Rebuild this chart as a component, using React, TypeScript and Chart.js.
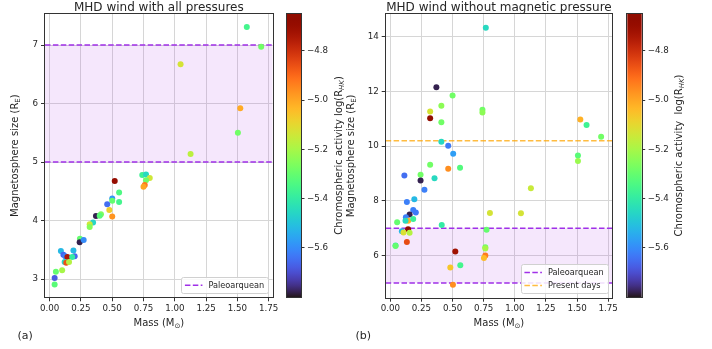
import React, { useEffect, useRef } from "react";
import { Chart, registerables } from "chart.js";
Chart.register(...registerables);

const FONT = "'DejaVu Sans', 'Liberation Sans', sans-serif";
const TXT = "#262626";
const GRID = "#d6d6d6";
const SPINE = "#333333";
const PURPLE = "#a030e8";
const ORANGE = "rgba(255,165,0,0.75)";
const BAND = "rgba(170,60,230,0.12)";

// ---------- data ----------
// Panel (a): MHD wind with all pressures
const massA = [0.52, 0.74, 0.77, 0.8, 0.77, 0.76, 0.75, 0.555, 0.555, 0.5, 0.5, 0.46, 0.477, 0.5, 0.37, 0.41, 0.4, 0.347, 0.32, 0.32, 0.242, 0.24, 0.272, 0.09, 0.19, 0.11, 0.125, 0.142, 0.2, 0.18, 0.12, 0.133, 0.155, 0.05, 0.1, 0.04, 0.04, 1.575, 1.69, 1.046, 1.523, 1.504, 1.126];
const sizeA = [4.675, 4.78, 4.79, 4.73, 4.69, 4.61, 4.58, 4.48, 4.32, 4.38, 4.34, 4.28, 4.18, 4.07, 4.08, 4.11, 4.085, 3.97, 3.94, 3.89, 3.69, 3.63, 3.67, 3.48, 3.49, 3.415, 3.39, 3.38, 3.39, 3.38, 3.295, 3.28, 3.295, 3.125, 3.15, 3.02, 2.91, 7.31, 6.97, 6.67, 5.92, 5.5, 5.14];
const actA = [-4.69, -5.37, -5.45, -5.14, -5.28, -4.93, -5.0, -5.34, -5.36, -5.58, -5.3, -5.65, -5.08, -4.97, -5.78, -5.26, -5.32, -5.46, -5.14, -5.25, -5.3, -5.78, -5.6, -5.52, -5.52, -5.66, -5.62, -4.75, -5.66, -5.4, -5.46, -4.86, -5.18, -5.3, -5.2, -5.68, -5.32, -5.36, -5.28, -5.13, -5.01, -5.28, -5.17];

// Panel (b): MHD wind without magnetic pressure
const massB = [0.767, 0.37, 0.5, 0.41, 0.32, 0.32, 0.41, 0.74, 0.74, 0.41, 0.465, 0.505, 0.32, 0.465, 0.56, 0.113, 0.243, 0.243, 0.355, 0.274, 0.133, 0.193, 0.184, 0.205, 0.155, 0.125, 0.143, 0.122, 0.184, 0.055, 0.413, 0.8, 1.049, 1.129, 0.143, 0.093, 0.106, 0.155, 0.773, 0.042, 0.042, 0.133, 0.522, 0.763, 0.763, 0.763, 0.752, 0.482, 0.562, 0.503, 1.526, 1.576, 1.693, 1.507, 1.507];
const sizeB = [14.33, 12.15, 11.85, 11.48, 11.27, 11.02, 10.87, 11.33, 11.23, 10.16, 10.01, 9.72, 9.32, 9.17, 9.21, 8.93, 8.95, 8.74, 8.83, 8.41, 7.96, 8.06, 7.67, 7.57, 7.5, 7.4, 7.27, 7.27, 7.34, 7.22, 7.12, 7.56, 7.55, 8.46, 6.96, 6.89, 6.84, 6.83, 6.94, 6.37, 6.35, 6.5, 6.15, 6.3, 6.26, 6.0, 5.91, 5.56, 5.65, 4.93, 10.97, 10.77, 10.34, 9.66, 9.46];
const actB = [-5.45, -5.78, -5.28, -5.24, -5.13, -4.68, -5.28, -5.28, -5.24, -5.45, -5.63, -5.57, -5.28, -4.96, -5.33, -5.65, -5.28, -5.78, -5.45, -5.62, -5.62, -5.52, -5.62, -5.63, -5.78, -5.62, -5.02, -5.45, -5.38, -5.3, -5.4, -5.13, -5.13, -5.15, -4.68, -5.52, -5.12, -5.18, -5.3, -5.4, -5.3, -4.85, -4.72, -5.28, -5.2, -4.93, -5.04, -5.06, -5.36, -4.96, -5.02, -5.37, -5.28, -5.32, -5.22];

const xTicks = [0, 0.25, 0.5, 0.75, 1.0, 1.25, 1.5, 1.75];
const yTicksA = [3, 4, 5, 6, 7];
const yTicksB = [6, 8, 10, 12, 14];
const cbTicks = [-5.6, -5.4, -5.2, -5.0, -4.8];
const xRange = [-0.037, 1.782];
const yRangeA = [2.69, 7.53];
const yRangeB = [4.46, 14.83];
const actRange = [-5.8, -4.65];
const paleoRange = [5, 7];
const presentDay = [10.2];

// ---------- colour map (turbo) ----------
function turbo(t: number): string {
  t = Math.max(0, Math.min(1, t));
  const r = 0.13572138 + t * (4.6153926 + t * (-42.66032258 + t * (132.13108234 + t * (-152.94239396 + t * 59.28637943))));
  const g = 0.09140261 + t * (2.19418839 + t * (4.84296658 + t * (-14.18503333 + t * (4.27729857 + t * 2.82956604))));
  const b = 0.1066733 + t * (12.64194608 + t * (-60.58204836 + t * (110.36276771 + t * (-89.90310912 + t * 27.34824973))));
  const c = (v: number) => Math.round(255 * Math.max(0, Math.min(1, v)));
  return `rgb(${c(r)},${c(g)},${c(b)})`;
}
const actColor = (v: number) => turbo((v - actRange[0]) / (actRange[1] - actRange[0]));

type Seg = { t: string; sub?: boolean; it?: boolean };
function drawRich(ctx: CanvasRenderingContext2D, segs: Seg[], x: number, y: number, size: number, rot: number) {
  ctx.save();
  ctx.translate(x, y);
  if (rot) ctx.rotate(rot);
  const fontFor = (s: Seg) => `${s.it ? "italic " : ""}${s.sub ? size * 0.7 : size}px ${FONT}`;
  let total = 0;
  const widths = segs.map((s) => {
    ctx.font = fontFor(s);
    const w = ctx.measureText(s.t).width;
    total += w;
    return w;
  });
  let cx = -total / 2;
  ctx.textBaseline = "alphabetic";
  ctx.textAlign = "left";
  ctx.fillStyle = TXT;
  segs.forEach((s, i) => {
    ctx.font = fontFor(s);
    ctx.fillText(s.t, cx, s.sub ? size * 0.22 : 0);
    cx += widths[i];
  });
  ctx.restore();
}

function plainText(ctx: CanvasRenderingContext2D, t: string, x: number, y: number, size: number, align: CanvasTextAlign) {
  ctx.save();
  ctx.font = `${size}px ${FONT}`;
  ctx.fillStyle = TXT;
  ctx.textAlign = align;
  ctx.textBaseline = "alphabetic";
  ctx.fillText(t, x, y);
  ctx.restore();
}

const DASH = [5.5, 2.4];

type Panel = {
  key: string;
  canvas: { left: number; top: number; width: number; height: number };
  area: { l: number; t: number; r: number; b: number };
  mass: number[];
  size: number[];
  act: number[];
  yRange: number[];
  yTicks: number[];
  title: string;
  ylabelX: number;
  panelLabel: string;
  panelLabelX: number;
  present: boolean;
  legend: { label: string; color: string }[];
};

const panels: Panel[] = [
  {
    key: "a",
    canvas: { left: 0, top: 0, width: 285, height: 349 },
    area: { l: 45, t: 14, r: 272.7, b: 297.3 },
    mass: massA, size: sizeA, act: actA,
    yRange: yRangeA, yTicks: yTicksA,
    title: "MHD wind with all pressures",
    ylabelX: 17.8,
    panelLabel: "(a)", panelLabelX: 17.5,
    present: false,
    legend: [{ label: "Paleoarquean", color: PURPLE }],
  },
  {
    key: "b",
    canvas: { left: 340, top: 0, width: 280, height: 349 },
    area: { l: 385.7, t: 14, r: 613.3, b: 297.7 },
    mass: massB, size: sizeB, act: actB,
    yRange: yRangeB, yTicks: yTicksB,
    title: "MHD wind without magnetic pressure",
    ylabelX: 353.5,
    panelLabel: "(b)", panelLabelX: 355.5,
    present: true,
    legend: [
      { label: "Paleoarquean", color: PURPLE },
      { label: "Present days", color: ORANGE },
    ],
  },
];

type CB = {
  key: string;
  canvas: { left: number; top: number; width: number; height: number };
  area: { l: number; t: number; r: number; b: number };
  label: Seg[];
  labelX: number;
};
const colorbars: CB[] = [
  {
    key: "ca",
    canvas: { left: 280, top: 0, width: 65, height: 349 },
    area: { l: 287, t: 14, r: 301, b: 297 },
    label: [{ t: "Chromospheric activity log(R" }, { t: "HK", sub: true, it: true }, { t: ")" }],
    labelX: 342,
  },
  {
    key: "cb",
    canvas: { left: 620, top: 0, width: 92, height: 349 },
    area: { l: 627.3, t: 14, r: 641.7, b: 297 },
    label: [{ t: "Chromospheric activity  log(R" }, { t: "HK", sub: true, it: true }, { t: ")" }],
    labelX: 681.5,
  },
];

function decorPlugin(p: Panel) {
  const ox = p.canvas.left;
  const oy = p.canvas.top;
  return {
    id: "decor" + p.key,
    beforeDatasetsDraw(chart: any) {
      const { ctx, chartArea: a, scales } = chart;
      const y = scales.y;
      ctx.save();
      ctx.beginPath();
      ctx.rect(a.left, a.top, a.right - a.left, a.bottom - a.top);
      ctx.clip();
      const y0 = y.getPixelForValue(paleoRange[0]);
      const y1 = y.getPixelForValue(paleoRange[1]);
      ctx.fillStyle = BAND;
      ctx.fillRect(a.left, y1, a.right - a.left, y0 - y1);
      ctx.lineWidth = 1.5;
      ctx.setLineDash(DASH);
      ctx.strokeStyle = PURPLE;
      paleoRange.forEach((v) => {
        const py = y.getPixelForValue(v);
        ctx.beginPath();
        ctx.moveTo(a.left, py);
        ctx.lineTo(a.right, py);
        ctx.stroke();
      });
      if (p.present) {
        ctx.strokeStyle = ORANGE;
        presentDay.forEach((v) => {
          const py = y.getPixelForValue(v);
          ctx.beginPath();
          ctx.moveTo(a.left, py);
          ctx.lineTo(a.right, py);
          ctx.stroke();
        });
      }
      ctx.restore();
    },
    afterDraw(chart: any) {
      const { ctx, chartArea: a } = chart;
      ctx.save();
      ctx.strokeStyle = SPINE;
      ctx.lineWidth = 1;
      ctx.strokeRect(Math.round(a.left) - 0.5, Math.round(a.top) - 0.5, Math.round(a.right) - Math.round(a.left) + 1, Math.round(a.bottom) - Math.round(a.top) + 1);
      ctx.restore();
      const cx = (a.left + a.right) / 2;
      const cy = (a.top + a.bottom) / 2;
      plainText(ctx, p.title, cx, 10.5 - oy, 12, "center");
      drawRich(ctx, [{ t: "Mass (M" }, { t: "\u2299", sub: true }, { t: ")" }], cx, 325.5 - oy, 10, 0);
      drawRich(ctx, [{ t: "Magnetosphere size (R" }, { t: "E", sub: true }, { t: ")" }], p.ylabelX - ox, cy, 10, -Math.PI / 2);
      plainText(ctx, p.panelLabel, p.panelLabelX - ox, 339 - oy, 11, "left");

      // legend
      const fs = 8.2;
      ctx.save();
      ctx.font = `${fs}px ${FONT}`;
      const tw = Math.max(...p.legend.map((it) => ctx.measureText(it.label).width));
      const padX = 3.5, handle = 17.5, gap = 6, rowH = 13;
      const w = padX + handle + gap + tw + 4;
      const h = p.legend.length * rowH + 3.3;
      const lx = a.right - 4.5 - w;
      const ly = a.bottom - 4 - h;
      ctx.fillStyle = "rgba(255,255,255,0.85)";
      ctx.strokeStyle = "#d0d0d0";
      ctx.lineWidth = 1;
      ctx.beginPath();
      (ctx as any).roundRect(Math.round(lx) + 0.5, Math.round(ly) + 0.5, Math.round(w), Math.round(h), 2);
      ctx.fill();
      ctx.stroke();
      p.legend.forEach((it, k) => {
        const ry = ly + 1.7 + rowH * (k + 0.5);
        ctx.strokeStyle = it.color;
        ctx.lineWidth = 1.5;
        ctx.setLineDash(DASH);
        ctx.beginPath();
        ctx.moveTo(lx + padX, ry);
        ctx.lineTo(lx + padX + handle, ry);
        ctx.stroke();
        ctx.setLineDash([]);
        ctx.fillStyle = TXT;
        ctx.textAlign = "left";
        ctx.textBaseline = "middle";
        ctx.fillText(it.label, lx + padX + handle + gap, ry + 0.5);
      });
      ctx.restore();
    },
  };
}

function cbPlugin(cb: CB) {
  const ox = cb.canvas.left;
  return {
    id: "cbar" + cb.key,
    beforeDatasetsDraw(chart: any) {
      const { ctx, chartArea: a } = chart;
      const g = ctx.createLinearGradient(0, a.bottom, 0, a.top);
      const n = 48;
      for (let i = 0; i <= n; i++) g.addColorStop(i / n, turbo(i / n));
      ctx.save();
      ctx.fillStyle = g;
      ctx.fillRect(a.left, a.top, a.right - a.left, a.bottom - a.top);
      ctx.restore();
    },
    afterDraw(chart: any) {
      const { ctx, chartArea: a } = chart;
      ctx.save();
      ctx.strokeStyle = SPINE;
      ctx.lineWidth = 1;
      ctx.strokeRect(Math.round(a.left) - 0.5, Math.round(a.top) - 0.5, Math.round(a.right) - Math.round(a.left) + 1, Math.round(a.bottom) - Math.round(a.top) + 1);
      ctx.restore();
      drawRich(ctx, cb.label, cb.labelX - ox, (a.top + a.bottom) / 2, 10, -Math.PI / 2);
    },
  };
}

const tickFont = { family: FONT, size: 8.7 };

function makeScatter(canvas: HTMLCanvasElement, p: Panel) {
  const c = p.canvas, a = p.area;
  const yW = a.l - c.left;
  const xH = c.top + c.height - a.b;
  return new Chart(canvas, {
    type: "scatter",
    data: {
      datasets: [
        {
          data: p.mass.map((m, i) => ({ x: m, y: p.size[i] })),
          backgroundColor: p.act.map(actColor),
          borderColor: p.act.map(actColor),
          borderWidth: 0,
          pointRadius: 3,
          pointHoverRadius: 3,
        },
      ],
    },
    options: {
      animation: false,
      responsive: false,
      maintainAspectRatio: false,
      events: [],
      layout: { padding: { top: a.t - c.top, right: c.left + c.width - a.r, left: 0, bottom: 0 } },
      plugins: { legend: { display: false }, tooltip: { enabled: false }, title: { display: false } },
      scales: {
        x: {
          type: "linear",
          min: xRange[0],
          max: xRange[1],
          afterBuildTicks: (s: any) => { s.ticks = xTicks.map((v) => ({ value: v })); },
          afterFit: (s: any) => { s.height = xH; },
          ticks: { font: tickFont, color: TXT, padding: 2, maxRotation: 0, minRotation: 0, autoSkip: false, callback: (v: any) => Number(v).toFixed(2) },
          grid: { color: GRID, lineWidth: 1, drawTicks: true, tickLength: 4, tickColor: SPINE, tickWidth: 1 },
          border: { display: false },
        },
        y: {
          type: "linear",
          min: p.yRange[0],
          max: p.yRange[1],
          afterBuildTicks: (s: any) => { s.ticks = p.yTicks.map((v) => ({ value: v })); },
          afterFit: (s: any) => { s.width = yW; },
          ticks: { font: tickFont, color: TXT, padding: 3, autoSkip: false, callback: (v: any) => String(v) },
          grid: { color: GRID, lineWidth: 1, drawTicks: true, tickLength: 4, tickColor: SPINE, tickWidth: 1 },
          border: { display: false },
        },
      },
    } as any,
    plugins: [decorPlugin(p)],
  });
}

function makeColorbar(canvas: HTMLCanvasElement, cb: CB) {
  const c = cb.canvas, a = cb.area;
  return new Chart(canvas, {
    type: "scatter",
    data: { datasets: [] },
    options: {
      animation: false,
      responsive: false,
      maintainAspectRatio: false,
      events: [],
      layout: { padding: { left: a.l - c.left, top: a.t - c.top, bottom: c.top + c.height - a.b, right: 0 } },
      plugins: { legend: { display: false }, tooltip: { enabled: false } },
      scales: {
        x: { display: false, min: 0, max: 1 },
        y: {
          position: "right",
          min: actRange[0],
          max: actRange[1],
          afterBuildTicks: (s: any) => { s.ticks = cbTicks.map((v) => ({ value: v })); },
          afterFit: (s: any) => { s.width = c.left + c.width - a.r; },
          ticks: { font: tickFont, color: TXT, padding: 2.5, autoSkip: false, callback: (v: any) => Number(v).toFixed(1).replace("-", "\u2212") },
          grid: { drawOnChartArea: false, drawTicks: true, tickLength: 3.5, tickColor: SPINE, tickWidth: 1 },
          border: { display: false },
        },
      },
    } as any,
    plugins: [cbPlugin(cb)],
  });
}

export default function App() {
  const r0 = useRef<HTMLCanvasElement>(null);
  const r1 = useRef<HTMLCanvasElement>(null);
  const r2 = useRef<HTMLCanvasElement>(null);
  const r3 = useRef<HTMLCanvasElement>(null);

  useEffect(() => {
    const charts: Chart[] = [];
    if (r0.current) charts.push(makeScatter(r0.current, panels[0]));
    if (r1.current) charts.push(makeColorbar(r1.current, colorbars[0]));
    if (r2.current) charts.push(makeScatter(r2.current, panels[1]));
    if (r3.current) charts.push(makeColorbar(r3.current, colorbars[1]));
    return () => charts.forEach((ch) => ch.destroy());
  }, []);

  const cs = (c: { left: number; top: number; width: number; height: number }): React.CSSProperties => ({
    position: "absolute",
    left: c.left,
    top: c.top,
    width: c.width,
    height: c.height,
    display: "block",
  });

  return (
    <div style={{ position: "absolute", left: 0, top: 0, width: 712, height: 349, background: "#ffffff", overflow: "hidden" }}>
      <canvas ref={r0} width={panels[0].canvas.width} height={panels[0].canvas.height} style={cs(panels[0].canvas)} />
      <canvas ref={r1} width={colorbars[0].canvas.width} height={colorbars[0].canvas.height} style={cs(colorbars[0].canvas)} />
      <canvas ref={r2} width={panels[1].canvas.width} height={panels[1].canvas.height} style={cs(panels[1].canvas)} />
      <canvas ref={r3} width={colorbars[1].canvas.width} height={colorbars[1].canvas.height} style={cs(colorbars[1].canvas)} />
    </div>
  );
}
